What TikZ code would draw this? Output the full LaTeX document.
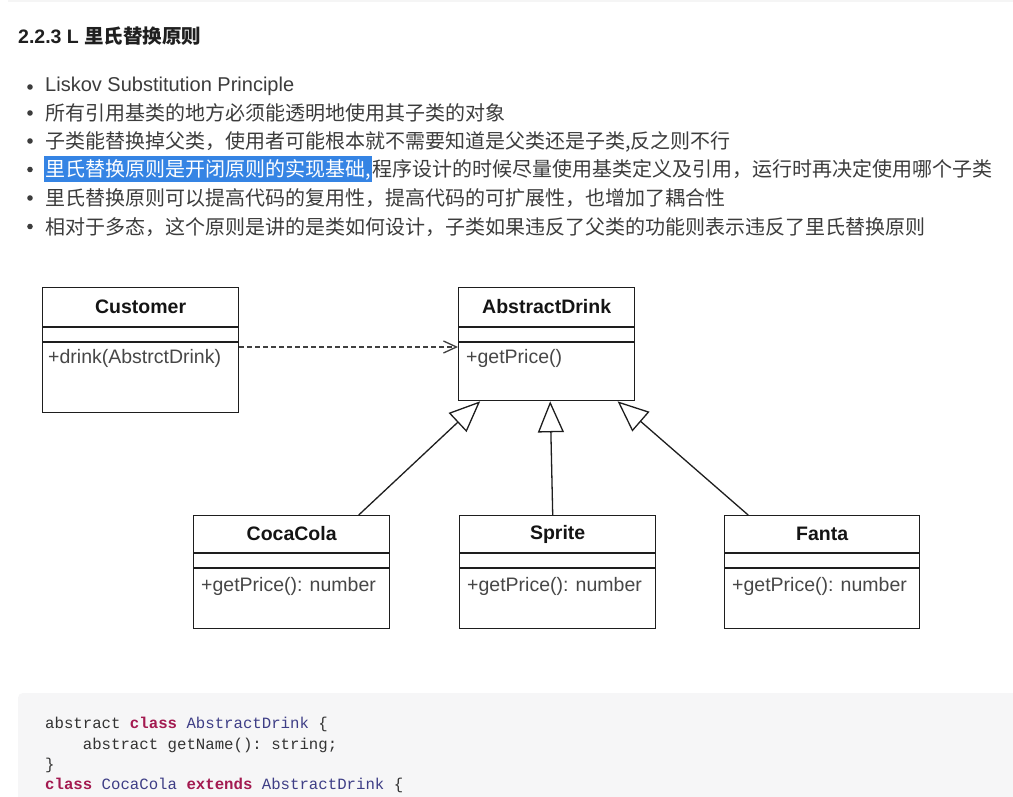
\documentclass[tikz,border=0pt]{standalone}
\usepackage{fontspec}
\setmainfont{Liberation Sans}
\setmonofont{Liberation Mono}
\newfontfamily\cjk{Noto Sans CJK SC}
\usetikzlibrary{positioning,arrows.meta,calc}
\definecolor{txt}{HTML}{3C3C3C}
\definecolor{sel}{HTML}{3584E4}
\definecolor{codebg}{HTML}{F6F6F7}
\definecolor{kw}{HTML}{A31A50}
\definecolor{nm}{HTML}{3E3E86}
\definecolor{umlline}{HTML}{1E1E1E}

\begin{document}
\begin{tikzpicture}[x=1pt,y=-1pt,
  cls/.style={draw=umlline,line width=1.3pt,anchor=north west,inner sep=0pt},
  divline/.style={draw=umlline,line width=1.3pt},
  clsname/.style={font=\bfseries\fontsize{19.5}{23}\selectfont,text=black!92,inner sep=0pt},
  meth/.style={anchor=west,font=\fontsize{19.5}{23}\selectfont,text=black!72,inner sep=0pt},
  gen/.style={draw=umlline,line width=1.3pt,-{Triangle[open,fill=white,length=31pt,width=26pt]}},
  dep/.style={draw=umlline!85,line width=1.3pt,dash pattern=on 5pt off 3pt,-{Straight Barb[length=13pt,width=12pt]}},
  en/.style={anchor=base west,font=\fontsize{20}{24}\selectfont,text=txt,inner sep=0pt},
  zh/.style={anchor=base west,font=\cjk\fontsize{20}{24}\selectfont,text=txt,inner sep=0pt},
  code/.style={anchor=base west,font=\ttfamily\fontsize{15.7}{20}\selectfont,text=black!80,inner sep=0pt}]
  \useasboundingbox (0,0) rectangle (1013,797);
  \fill[white] (0,0) rectangle (1013,797);
  \fill[black!4] (8,0) rectangle (1013,2.5);

  % heading and bullet list
  \node[anchor=base west,font=\bfseries\fontsize{19.5}{23}\selectfont,text=black!88,inner sep=0pt] (head) at (18,44) {2.2.3 L {\cjk 里氏替换原则}};
  \foreach \y in {87,113,141,169.5,198,226.5} \fill[txt] (30,\y) circle (2.8pt);
  \node[en] (l1) at (45,92) {Liskov Substitution Principle};
  \node[zh] (l2) at (45,120.5) {所有引用基类的地方必须能透明地使用其子类的对象};
  \node[zh] (l3) at (45,148.5) {子类能替换掉父类，使用者可能根本就不需要知道是父类还是子类,反之则不行};
  \node[zh,fill=sel,text=white,inner xsep=1.5pt,inner ysep=3.5pt,text height=17pt,text depth=2pt] (l4a) at (43.5,177) {里氏替换原则是开闭原则的实现基础,};
  \node[zh] (l4b) at (l4a.base east) {程序设计的时候尽量使用基类定义及引用，运行时再决定使用哪个子类};
  \node[zh] (l5) at (45,205.5) {里氏替换原则可以提高代码的复用性，提高代码的可扩展性，也增加了耦合性};
  \node[zh] (l6) at (45,234) {相对于多态，这个原则是讲的是类如何设计，子类如果违反了父类的功能则表示违反了里氏替换原则};

  % class boxes
  \node[cls,minimum width=196pt,minimum height=125pt] (cust) at (42,287) {};
  \node[cls,minimum width=176pt,minimum height=113pt] (abs) at (458,287) {};
  \node[cls,minimum width=196pt,minimum height=113pt] (coca) at (193,515) {};
  \node[cls,minimum width=196pt,minimum height=113pt] (sprite) at (459,515) {};
  \node[cls,minimum width=195pt,minimum height=113pt] (fanta) at (724,515) {};
  \foreach \c/\a/\b in {cust/40/55,abs/40/55,coca/38/53,sprite/38/53,fanta/38/53}{
    \draw[divline] ($(\c.north west)+(0,\a)$)--($(\c.north east)+(0,\a)$);
    \draw[divline] ($(\c.north west)+(0,\b)$)--($(\c.north east)+(0,\b)$);}
  \node[clsname] (custT) at ($(cust.north)+(0,20)$) {Customer};
  \node[clsname] (absT) at ($(abs.north)+(0,20)$) {AbstractDrink};
  \node[clsname] (cocaT) at ($(coca.north)+(0,19)$) {CocaCola};
  \node[clsname] (spriteT) at ($(sprite.north)+(0,19)$) {Sprite};
  \node[clsname] (fantaT) at ($(fanta.north)+(0,19)$) {Fanta};
  \node[meth] (custM) at ($(cust.north west)+(6,71)$) {+drink(AbstrctDrink)};
  \node[meth] (absM) at ($(abs.north west)+(8,71)$) {+getPrice()};
  \node[meth] (cocaM) at ($(coca.north west)+(8,71)$) {+getPrice(): number};
  \node[meth] (spriteM) at ($(sprite.north west)+(8,71)$) {+getPrice(): number};
  \node[meth] (fantaM) at ($(fanta.north west)+(8,71)$) {+getPrice(): number};

  % relations
  \draw[dep] ($(cust.north east)+(0,60)$)--($(abs.north west)+(0,60)$);
  \draw[gen] ($(coca.north west)!0.84!(coca.north east)$)--($(abs.south west)!0.125!(abs.south east)$);
  \draw[gen] ($(sprite.north west)!0.475!(sprite.north east)$)--($(abs.south west)!0.52!(abs.south east)$);
  \draw[gen] ($(fanta.north west)!0.123!(fanta.north east)$)--($(abs.south west)!0.9!(abs.south east)$);

  % code block
  \fill[codebg,rounded corners=5pt] (18,693) rectangle (1030,820);
  \node[code] (c1) at (45,728) {abstract {\color{kw}\bfseries class} {\color{nm}AbstractDrink} \{};
  \node[code] (c2) at (82.7,749) {abstract getName(): string;};
  \node[code] (c3) at (45,769) {\}};
  \node[code] (c4) at (45,789) {{\color{kw}\bfseries class} {\color{nm}CocaCola} {\color{kw}\bfseries extends} {\color{nm}AbstractDrink} \{};
\end{tikzpicture}
\end{document}
